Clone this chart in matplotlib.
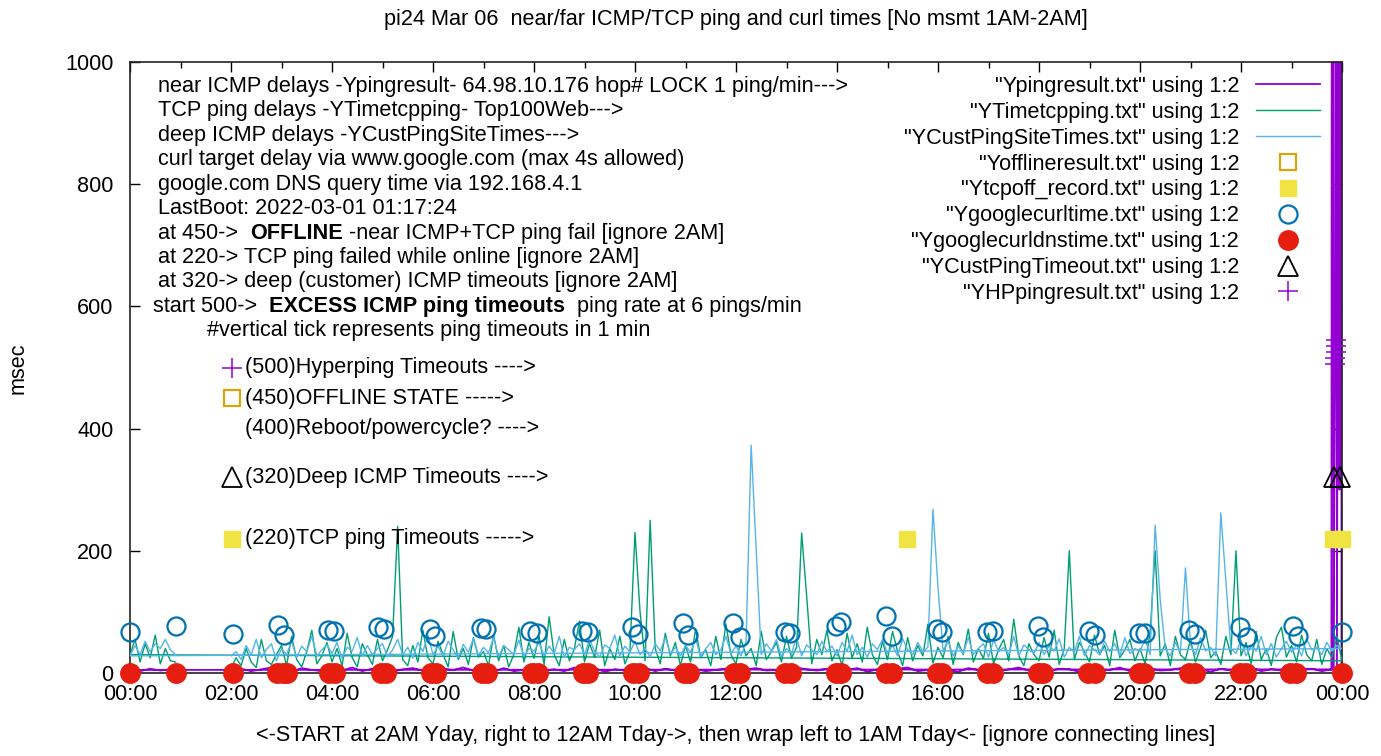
import matplotlib
matplotlib.use('Agg')
import matplotlib.pyplot as plt
from matplotlib.ticker import MultipleLocator, FixedLocator
import numpy as np

plt.rcParams['font.family'] = ['Liberation Sans', 'DejaVu Sans']
FS = 15.6

# ---------------- data ----------------
# TCP ping delays (green), 6-minute samples from 02:00 to 24:00
tcp_main = [8, 25, 12, 40, 18, 9, 55, 20, 14, 30,
            45, 12, 60, 22, 10, 35, 70, 15, 28, 50,
            18, 40, 12, 65, 25, 10, 48, 30, 14, 55,
            20, 38, 60, 240, 22, 12, 45, 18, 70, 25,
            15, 52, 30, 10, 68, 22, 40, 14, 58, 26,
            35, 12, 62, 20, 45, 10, 30, 75, 18, 50,
            24, 60, 14, 92, 30, 12, 55, 20, 40, 85,
            18, 48, 26, 70, 12, 40, 22, 60, 15, 35,
            230, 100, 20, 250, 40, 15, 65, 28, 50, 12,
            45, 18, 72, 25, 38, 12, 60, 22, 80, 30,
            15, 55, 28, 40, 12, 68, 22, 35, 50, 18,
            60, 25, 42, 229, 125, 15, 55, 30, 70, 20,
            38, 12, 65, 25, 48, 18, 75, 30, 14, 52,
            22, 68, 35, 12, 58, 20, 45, 28, 80, 16,
            42, 25, 60, 14, 50, 30, 72, 18, 40, 24,
            65, 15, 38, 55, 20, 88, 28, 12, 48, 30,
            20, 58, 26, 70, 14, 40, 200, 22, 50, 35,
            18, 62, 30, 45, 12, 70, 25, 38, 55, 20,
            40, 15, 65, 200, 28, 48, 12, 60, 30, 22,
            55, 18, 42, 70, 25, 35, 14, 60, 30, 200,
            28, 50, 15, 68, 22, 40, 12, 58, 75, 26,
            45, 18, 62, 30, 20, 55, 14, 40, 25, 60,
            20]
tcp_wrap = [30, 55, 18, 48, 25, 62, 15, 40, 20, 18]   # 00:00-00:54

# deep ICMP delays (sky blue)
deep_main = [28, 35, 22, 45, 30, 55, 25, 38, 48, 20,
             40, 30, 52, 25, 44, 35, 60, 28, 38, 46,
             32, 50, 24, 42, 36, 58, 28, 45, 30, 40,
             48, 26, 38, 55, 30, 42, 24, 50, 35, 62,
             30, 44, 28, 52, 38, 25, 47, 34, 56, 29,
             42, 33, 58, 26, 45, 38, 30, 54, 27, 40,
             36, 50, 28, 44, 32, 60, 25, 42, 38, 48,
             30, 55, 35, 26, 46, 40, 62, 28, 44, 34,
             52, 30, 40, 26, 48, 36, 58, 32, 42, 28,
             45, 34, 56, 27, 40, 50, 30, 38, 60, 32,
             44, 28, 52, 373, 200, 30, 48, 36, 55, 26,
             40, 32, 58, 28, 46, 38, 30, 52, 35, 44,
             28, 50, 36, 62, 30, 42, 26, 48, 38, 55,
             32, 45, 28, 56, 38, 30, 50, 35, 42, 268,
             140, 36, 52, 28, 44, 32, 58, 30, 40, 48,
             26, 54, 35, 42, 30, 60, 28, 46, 38, 32,
             50, 30, 44, 36, 56, 26, 42, 34, 60, 28,
             45, 38, 30, 52, 35, 48, 28, 58, 32, 40,
             36, 55, 30, 242, 120, 40, 28, 50, 34, 172,
             46, 30, 58, 36, 42, 28, 262, 150, 40, 32,
             54, 28, 44, 36, 60, 30, 48, 26, 40, 52,
             34, 46, 28, 56, 38, 42, 30, 50, 36, 45,
             40]
deep_wrap = [28, 45, 30, 52, 35, 48, 40, 55, 38, 30]

# near ICMP delays (purple), 12-minute samples 02:00-23:48
near_main = [4, 7, 3, 6, 9, 4, 2, 8, 5, 3,
             6, 4, 9, 3, 7, 5, 2, 6, 8, 4,
             3, 7, 5, 9, 4, 6, 2, 8, 3, 5,
             7, 4, 6, 3, 9, 5, 8, 2, 6, 4,
             5, 8, 3, 7, 4, 9, 6, 3, 5, 7,
             2, 6, 8, 4, 5, 3, 9, 6, 4, 7,
             3, 5, 8, 2, 6, 4, 7, 9, 3, 5,
             6, 4, 2, 8, 5, 7, 3, 6, 9, 4,
             5, 3, 7, 6, 2, 8, 4, 5, 9, 3,
             6, 7, 4, 5, 8, 3, 6, 2, 7, 4,
             5, 9, 3, 6, 4, 8, 5, 7, 3, 6]
near_burst_t = [23.79, 23.80, 23.82, 23.83, 23.86, 23.88, 23.90, 23.94, 23.95, 23.985, 23.99]
near_burst_v = [5, 1800, 1800, 6, 480, 1800, 8, 1800, 300, 1800, 6]
near_wrap = [5, 3, 7, 4, 6]

offline_t, offline_v = [], []
tcpoff_t = [15.39, 23.83, 24.0]
tcpoff_v = [220, 220, 220]

curl_t = [0.0, 0.91, 2.04, 2.93, 3.05, 3.92, 4.04, 4.91, 5.03, 5.94, 6.04, 6.95, 7.05,
          7.92, 8.06, 8.95, 9.07, 9.94, 10.06, 10.95, 11.05, 11.94, 12.08, 12.97, 13.07,
          13.98, 14.08, 14.97, 15.09, 15.98, 16.08, 16.97, 17.09, 17.98, 18.08, 18.99,
          19.11, 19.98, 20.10, 20.97, 21.09, 21.98, 22.12, 23.03, 23.13, 24.0]
curl_v = [67, 77, 64, 79, 62, 70, 68, 75, 72, 72, 60, 74, 72, 69, 65, 69, 67, 75, 64,
          82, 62, 82, 59, 67, 66, 77, 83, 93, 60, 72, 67, 67, 69, 77, 59, 69, 62, 65,
          65, 70, 64, 75, 59, 77, 60, 67]

dns_t = [0.0, 0.92, 2.04, 2.92, 3.02, 3.1, 3.95, 4.06, 4.97, 5.07, 5.97, 6.06, 6.97,
         7.06, 7.96, 8.08, 8.97, 9.07, 9.97, 10.07, 10.97, 11.07, 11.96, 12.08, 12.98,
         13.08, 13.98, 14.08, 14.98, 15.08, 15.98, 16.08, 16.98, 17.08, 17.98, 18.08,
         18.98, 19.1, 19.98, 20.08, 20.98, 21.08, 21.98, 22.1, 22.98, 23.08, 24.0]
dns_v = [0] * len(dns_t)

custto_t = [23.84, 23.96]
custto_v = [320, 320]

hp_t = [23.86, 23.87, 23.88, 23.88, 23.89]
hp_v = [505, 515, 525, 535, 545]

xtick_labels = ['00:00', '02:00', '04:00', '06:00', '08:00', '10:00', '12:00',
                '14:00', '16:00', '18:00', '20:00', '22:00', '00:00']

legend_labels = ['"Ypingresult.txt" using 1:2', '"YTimetcpping.txt" using 1:2',
                 '"YCustPingSiteTimes.txt" using 1:2', '"Yofflineresult.txt" using 1:2',
                 '"Ytcpoff_record.txt" using 1:2', '"Ygooglecurltime.txt" using 1:2',
                 '"Ygooglecurldnstime.txt" using 1:2', '"YCustPingTimeout.txt" using 1:2',
                 '"YHPpingresult.txt" using 1:2']

info_lines = [
    [("near ICMP delays -Ypingresult- 64.98.10.176 hop# LOCK 1 ping/min--->", 'normal')],
    [("TCP ping delays -YTimetcpping- Top100Web--->", 'normal')],
    [("deep ICMP delays -YCustPingSiteTimes--->", 'normal')],
    [("curl target delay via www.google.com (max 4s allowed)", 'normal')],
    [("google.com DNS query time via 192.168.4.1", 'normal')],
    [("LastBoot: 2022-03-01 01:17:24", 'normal')],
    [("at 450->  ", 'normal'), ("OFFLINE", 'bold'), (" -near ICMP+TCP ping fail [ignore 2AM]", 'normal')],
    [("at 220-> TCP ping failed while online [ignore 2AM]", 'normal')],
    [("at 320-> deep (customer) ICMP timeouts [ignore 2AM]", 'normal')],
    [("start 500->  ", 'normal'), ("EXCESS ICMP ping timeouts", 'bold'), ("  ping rate at 6 pings/min", 'normal')],
    [("#vertical tick represents ping timeouts in 1 min", 'normal')],
]
info_y = [960, 920, 880, 840, 800, 760, 720, 680, 640, 600, 560]
info_x = [0.55, 0.55, 0.55, 0.55, 0.55, 0.55, 0.55, 0.55, 0.55, 0.46, 1.52]

key_text = ["(500)Hyperping Timeouts ---->", "(450)OFFLINE STATE ----->",
            "(400)Reboot/powercycle? ---->", "(320)Deep ICMP Timeouts ---->",
            "(220)TCP ping Timeouts ----->"]
key_y = [500, 450, 400, 320, 220]

# ---------------- colours ----------------
C_PURPLE = '#9400D3'
C_GREEN = '#009E73'
C_SKY = '#56B4E9'
C_ORANGE = '#E69F00'
C_YELLOW = '#F0E442'
C_BLUE = '#0072B2'
C_RED = '#E51E10'

# ---------------- figure ----------------
W, H = 1381, 756
fig = plt.figure(figsize=(W / 100, H / 100), dpi=100)
L, R, T, B = 130, 1342, 62, 673
ax = fig.add_axes([L / W, 1 - B / H, (R - L) / W, (B - T) / H])

t_tcp = list(2.0 + 0.1 * np.arange(len(tcp_main))) + list(0.1 * np.arange(len(tcp_wrap)))
t_deep = list(2.0 + 0.1 * np.arange(len(deep_main))) + list(0.1 * np.arange(len(deep_wrap)))
t_near = (list(2.0 + 0.2 * np.arange(len(near_main))) + near_burst_t
          + list(0.2 * np.arange(len(near_wrap))))
v_near = near_main + near_burst_v + near_wrap

h1, = ax.plot(t_near, v_near, color=C_PURPLE, lw=1.3, zorder=2)
h2, = ax.plot(t_tcp, tcp_main + tcp_wrap, color=C_GREEN, lw=1.0, zorder=3)
h3, = ax.plot(t_deep, deep_main + deep_wrap, color=C_SKY, lw=1.0, zorder=4)
h4, = ax.plot(offline_t, offline_v, ls='none', marker='s', ms=12, mfc='none',
              mec=C_ORANGE, mew=1.5, zorder=5)
h5, = ax.plot(tcpoff_t, tcpoff_v, ls='none', marker='s', ms=12, mfc=C_YELLOW,
              mec=C_YELLOW, zorder=5, clip_on=False)
h6, = ax.plot(curl_t, curl_v, ls='none', marker='o', ms=13, mfc='none',
              mec=C_BLUE, mew=1.6, zorder=6, clip_on=False)
h7, = ax.plot(dns_t, dns_v, ls='none', marker='o', ms=14, mfc=C_RED,
              mec=C_RED, zorder=7, clip_on=False)
h8, = ax.plot(custto_t, custto_v, ls='none', marker='^', ms=15, mfc='none',
              mec='black', mew=1.3, zorder=7, clip_on=False)
h9, = ax.plot(hp_t, hp_v, ls='none', marker='+', ms=15, mec=C_PURPLE,
              mew=1.1, zorder=7, clip_on=False)

ax.set_xlim(0, 24)
ax.set_ylim(0, 1000)
ax.xaxis.set_major_locator(FixedLocator(list(range(0, 25, 2))))
ax.set_xticklabels(xtick_labels)
ax.xaxis.set_minor_locator(MultipleLocator(1))
ax.yaxis.set_major_locator(MultipleLocator(200))
ax.tick_params(axis='both', which='both', direction='in', top=True, right=True,
               labelsize=FS, colors='black')
ax.tick_params(axis='both', which='major', length=7, width=1)
ax.tick_params(axis='both', which='minor', length=4, width=1)
ax.tick_params(axis='x', pad=8)
ax.tick_params(axis='y', pad=12)
for sp in ax.spines.values():
    sp.set_linewidth(1.2)
    sp.set_color('#222222')

# info text block with bold parts
for parts, y, x in zip(info_lines, info_y, info_x):
    prev = ax.text(x, y, parts[0][0], fontsize=FS, fontweight=parts[0][1],
                   ha='left', va='center', zorder=8)
    for txt, wt in parts[1:]:
        prev = ax.annotate(txt, xy=(1, 0), xycoords=prev, xytext=(0, 0),
                           textcoords='offset points', fontsize=FS, fontweight=wt,
                           ha='left', va='bottom', zorder=8)

# in-plot key labels
for txt, y in zip(key_text, key_y):
    ax.text(2.28, y, txt, fontsize=FS, ha='left', va='center', zorder=8)
ax.plot([2.02], [500], ls='none', marker='+', ms=15, mec=C_PURPLE, mew=1.1)
ax.plot([2.02], [450], ls='none', marker='s', ms=12, mfc='none', mec=C_ORANGE, mew=1.5)
ax.plot([2.02], [320], ls='none', marker='^', ms=15, mfc='none', mec='black', mew=1.3)
ax.plot([2.02], [220], ls='none', marker='s', ms=12, mfc=C_YELLOW, mec=C_YELLOW)

# legend
leg = ax.legend([h1, h2, h3, h4, h5, h6, h7, h8, h9], legend_labels,
                loc='upper right', bbox_to_anchor=(1320 / W, 1 - 76 / H),
                bbox_transform=fig.transFigure, markerfirst=False, frameon=False,
                fontsize=FS, handlelength=2.95, handletextpad=0.78,
                labelspacing=0.225, borderaxespad=0, borderpad=0, numpoints=1)
for t in leg.get_texts():
    t.set_ha('right')

fig.text(736 / W, 1 - 20 / H,
         'pi24 Mar 06  near/far ICMP/TCP ping and curl times [No msmt 1AM-2AM]',
         ha='center', va='center', fontsize=FS)
fig.text(736 / W, 1 - 735 / H,
         '<-START at 2AM Yday, right to 12AM Tday->, then wrap left to 1AM Tday<- [ignore connecting lines]',
         ha='center', va='center', fontsize=FS)
fig.text(18 / W, 1 - 368 / H, 'msec', rotation=90, ha='center', va='center', fontsize=FS)

fig.savefig('out.png', dpi=100)
